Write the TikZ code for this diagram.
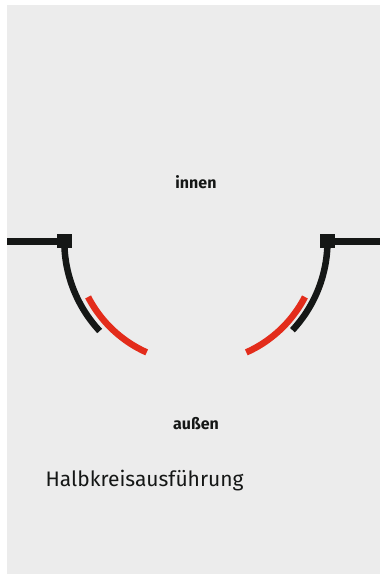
\documentclass[tikz,border=0pt]{standalone}
\usepackage{fontspec}
\setmainfont{Fira Sans}
\definecolor{panel}{HTML}{ECECEC}
\definecolor{ink}{HTML}{151716}
\definecolor{signal}{HTML}{E32C1B}
\tikzset{
  wall/.style={draw=ink,line width=7pt},
  leaf/.style={line width=6.5pt,line cap=butt},
  post/.style={fill=ink,draw=none,minimum size=14.5pt,inner sep=0pt},
  lbl/.style={text=ink,font=\fontsize{16}{18}\selectfont\bfseries,inner sep=0pt}
}
\begin{document}
\begin{tikzpicture}[x=1pt,y=-1pt]
\useasboundingbox (0,0) rectangle (380,574);
\fill[white] (0,0) rectangle (380,574);
\fill[panel] (7,5) rectangle (380,574);
\coordinate (wl) at (7,241);
\coordinate (wr) at (380,241);
\node[post] (pl) at (64.3,241) {};
\node[post] (pr) at (327.5,241) {};
\draw[wall] (wl) -- (pl.center);
\draw[wall] (wr) -- (pr.center);
\draw[leaf,draw=ink] plot[domain=0:42.9,samples=40] ({196.5-132.2*cos(\x)},{241+132.2*sin(\x)});
\draw[leaf,draw=ink] plot[domain=0:42.9,samples=40] ({196.5+131*cos(\x)},{241+131*sin(\x)});
\draw[leaf,draw=signal] plot[domain=27.3:65.9,samples=40] ({196.5-122*cos(\x)},{241+122*sin(\x)});
\draw[leaf,draw=signal] plot[domain=27.3:65.9,samples=40] ({196.5+122*cos(\x)},{241+122*sin(\x)});
\node[lbl,anchor=base] (in) at (196,188) {innen};
\node[lbl,anchor=base] (out) at (196,429) {außen};
\node[anchor=base west,inner sep=0pt,text=ink,font=\fontsize{21}{24}\selectfont] (cp) at (45.5,486) {Halbkreisausführung};
\end{tikzpicture}
\end{document}
